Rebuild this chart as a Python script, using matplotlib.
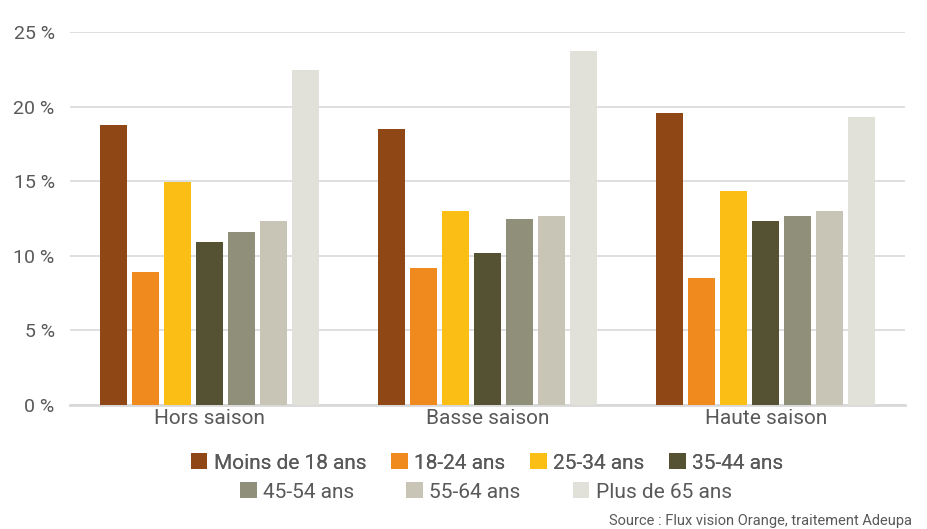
import matplotlib.pyplot as plt
from matplotlib.patches import Patch
import numpy as np

plt.rcParams['font.family'] = ['Roboto', 'DejaVu Sans']

categories = ['Hors saison', 'Basse saison', 'Haute saison']
groups = ['Moins de 18 ans', '18-24 ans', '25-34 ans', '35-44 ans',
          '45-54 ans', '55-64 ans', 'Plus de 65 ans']
values = {
    'Moins de 18 ans': [18.8, 18.5, 19.6],
    '18-24 ans':       [8.9, 9.2, 8.5],
    '25-34 ans':       [14.95, 13.0, 14.35],
    '35-44 ans':       [10.95, 10.2, 12.3],
    '45-54 ans':       [11.6, 12.5, 12.7],
    '55-64 ans':       [12.3, 12.7, 13.0],
    'Plus de 65 ans':  [22.45, 23.75, 19.3],
}
colors = ['#8F4716', '#F08A1E', '#FABE14', '#555133',
          '#908F7A', '#C8C5B6', '#E1E1D9']
yticks = [0, 5, 10, 15, 20, 25]
txt = '#595959'

fig = plt.figure(figsize=(9.27, 5.29), dpi=100)
ax = fig.add_axes([70 / 927, 1 - 405 / 529, 835 / 927, 373 / 529])

x = np.arange(len(categories))
slot = 0.115
width = 0.097
for i, g in enumerate(groups):
    ax.bar(x + (i - 3) * slot, values[g], width, color=colors[i], zorder=3)

ax.set_xlim(-0.5, 2.5)
ax.set_ylim(0, 25)
ax.set_yticks(yticks)
ax.set_yticklabels(['{:d} %'.format(v) for v in yticks])
ax.set_xticks(x)
ax.set_xticklabels(categories)
ax.tick_params(axis='both', length=0, colors=txt)
ax.tick_params(axis='y', pad=11, labelsize=14)
ax.tick_params(axis='x', pad=3, labelsize=15)
ax.grid(axis='y', color='#D9D9D9', linewidth=1.2, zorder=0)
for s in ['top', 'right', 'left']:
    ax.spines[s].set_visible(False)
ax.spines['bottom'].set_color('#D9D9D9')
ax.spines['bottom'].set_linewidth(2)

handles = [Patch(facecolor=c, label=g) for c, g in zip(colors, groups)]
leg1 = fig.legend(handles=handles[:4], loc='center', bbox_to_anchor=(487 / 927, 1 - 463 / 529),
                  ncol=4, frameon=False, fontsize=15, handlelength=0.8, handleheight=0.8,
                  handletextpad=0.3, columnspacing=1.2, labelcolor=txt)
leg2 = fig.legend(handles=handles[4:], loc='center', bbox_to_anchor=(486 / 927, 1 - 492 / 529),
                  ncol=3, frameon=False, fontsize=15, handlelength=0.8, handleheight=0.8,
                  handletextpad=0.3, columnspacing=2.5, labelcolor=txt)
fig.add_artist(leg1)

fig.text(912 / 927, 1 - 521 / 529, 'Source : Flux vision Orange, traitement Adeupa',
         ha='right', va='center', fontsize=10.5, color=txt)

fig.savefig('out.png', dpi=100)
